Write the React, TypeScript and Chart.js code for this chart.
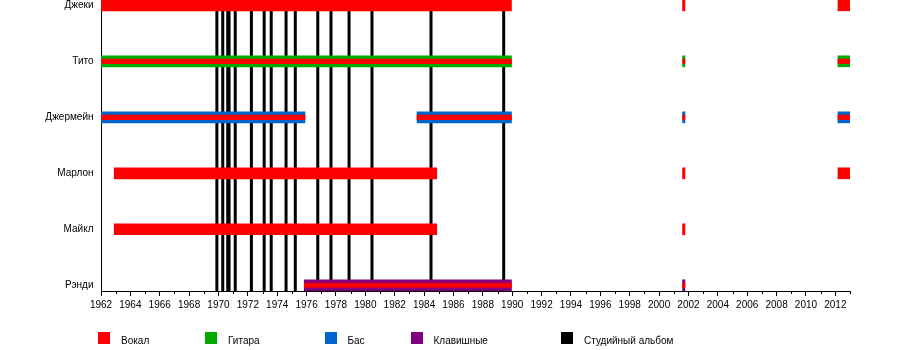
import React, { useEffect, useRef } from 'react';
import { Chart, registerables } from 'chart.js';

Chart.register(...registerables);

// ---- data ----
const members = ['Джеки', 'Тито', 'Джермейн', 'Марлон', 'Майкл', 'Рэнди'];

const jackiePeriods = [[1962, 1989.95], [2001.6, 2001.76], [2012.18, 2013]];
const titoPeriods = [[1962, 1989.95], [2001.6, 2001.76], [2012.18, 2013]];
const jermainePeriods = [[1962, 1975.89], [1983.52, 1989.95], [2001.6, 2001.76], [2012.18, 2013]];
const marlonPeriods = [[1962.9, 1984.86], [2001.6, 2001.76], [2012.18, 2013]];
const michaelPeriods = [[1962.9, 1984.86], [2001.6, 2001.76]];
const randyPeriods = [[1975.84, 1989.95], [2001.6, 2001.76]];

const albumYears = [
  1969.89, 1970.29, 1970.63, 1970.72, 1971.14, 1972.24, 1973.11, 1973.59,
  1974.6, 1975.23, 1976.76, 1977.66, 1978.89, 1980.45, 1984.47, 1989.42,
];

const legendLabels = ['Вокал', 'Гитара', 'Бас', 'Клавишные', 'Студийный альбом'];
const legendColors = ['#FF0000', '#00AA00', '#0066CC', '#800080', '#000000'];

const yearMin = 1962;
const yearMax = 2013;

// ---- layout (not data) ----
const FONT = '"Liberation Sans", Arial, sans-serif';
const LEGEND_LEFT = [98, 205, 324.5, 410.5, 561];

const toBars = (periods: number[][], row: number) =>
  periods.map(([a, b]) => ({ x: [a, b], y: row }));

const minorTicks = {
  id: 'minorTicks',
  afterDraw(chart: any) {
    const xs = chart.scales.x;
    const ctx = chart.ctx;
    const y0 = chart.chartArea.bottom;
    ctx.save();
    ctx.strokeStyle = '#000';
    ctx.lineWidth = 1;
    for (const t of xs.ticks) {
      if (Math.round(t.value) % 2 !== 0) {
        const px = Math.round(xs.getPixelForValue(t.value)) + 0.5;
        ctx.beginPath();
        ctx.moveTo(px, y0);
        ctx.lineTo(px, y0 + 3);
        ctx.stroke();
      }
    }
    ctx.restore();
  },
};

export default function App() {
  const ref = useRef<HTMLCanvasElement>(null);

  useEffect(() => {
    if (!ref.current) return;
    const [vocalColor, guitarColor, bassColor, keysColor, albumColor] = legendColors;
    const barBase = { type: 'bar', grouped: false, borderWidth: 0, indexAxis: 'y' };
    const datasets: any[] = [
      { ...barBase, label: legendLabels[1], data: toBars(titoPeriods, 1), backgroundColor: guitarColor, barThickness: 11, order: 5 },
      { ...barBase, label: legendLabels[2], data: toBars(jermainePeriods, 2), backgroundColor: bassColor, barThickness: 11, order: 5 },
      { ...barBase, label: legendLabels[3], data: toBars(randyPeriods, 5), backgroundColor: keysColor, barThickness: 11, order: 5 },
      {
        ...barBase,
        label: legendLabels[0],
        data: [...toBars(jackiePeriods, 0), ...toBars(marlonPeriods, 3), ...toBars(michaelPeriods, 4)],
        backgroundColor: vocalColor,
        barThickness: 11,
        order: 4,
      },
      {
        ...barBase,
        label: legendLabels[0] + ' ',
        data: [...toBars(titoPeriods, 1), ...toBars(jermainePeriods, 2), ...toBars(randyPeriods, 5)],
        backgroundColor: vocalColor,
        barThickness: 4.5,
        order: 1,
      },
      ...albumYears.map((yr) => ({
        type: 'line',
        label: legendLabels[4],
        indexAxis: 'y',
        data: [{ x: yr, y: -1 }, { x: yr, y: members.length + 1 }],
        borderColor: albumColor,
        borderWidth: 3,
        pointRadius: 0,
        fill: false,
        clip: 0,
        order: 10,
      })),
    ];

    const chart = new Chart(ref.current, {
      type: 'bar',
      data: { datasets },
      options: {
        indexAxis: 'y',
        animation: false,
        responsive: false,
        devicePixelRatio: 1,
        layout: { padding: { left: 0, right: 50, top: 0, bottom: 0 } },
        plugins: { legend: { display: false }, tooltip: { enabled: false } },
        events: [],
        scales: {
          x: {
            type: 'linear',
            position: 'bottom',
            offset: false,
            min: yearMin,
            max: yearMax,
            afterFit: (s: any) => {
              s.height = 59;
              s.paddingLeft = 0;
              s.paddingRight = 0;
            },
            ticks: {
              stepSize: 1,
              autoSkip: false,
              maxRotation: 0,
              minRotation: 0,
              padding: 3,
              color: '#000',
              font: { family: FONT, size: 10 },
              callback: (v: any) => (Math.round(v) % 2 === 0 ? String(v) : ''),
            },
            grid: {
              display: true,
              offset: false,
              drawOnChartArea: false,
              drawTicks: true,
              tickLength: 5,
              tickColor: (c: any) =>
                c.tick && Math.round(c.tick.value) % 2 === 0 ? '#000' : 'rgba(0,0,0,0)',
            },
            border: { display: true, color: '#000', width: 1 },
          },
          y: {
            type: 'linear',
            position: 'left',
            reverse: true,
            offset: false,
            min: -0.095,
            max: 5.102,
            afterBuildTicks: (s: any) => {
              s.ticks = members.map((_, i) => ({ value: i }));
            },
            afterFit: (s: any) => {
              s.width = 101;
              s.paddingTop = 0;
              s.paddingBottom = 0;
            },
            ticks: {
              autoSkip: false,
              padding: 7.5,
              color: '#000',
              font: { family: FONT, size: 10 },
              callback: (v: any) => members[Math.round(v)] ?? '',
            },
            grid: { display: false, offset: false, drawTicks: false },
            border: { display: true, color: '#000', width: 1 },
          },
        },
      } as any,
      plugins: [minorTicks],
    } as any);
    return () => chart.destroy();
  }, []);

  return (
    <div style={{ position: 'absolute', left: 0, top: 0, width: 900, height: 350, background: '#fff' }}>
      <canvas ref={ref} width={900} height={350} style={{ display: 'block', width: 900, height: 350 }} />
      {legendLabels.map((lab, i) => (
        <React.Fragment key={lab}>
          <div
            style={{
              position: 'absolute',
              left: LEGEND_LEFT[i],
              top: 332,
              width: 12,
              height: 12,
              background: legendColors[i],
            }}
          />
          <div
            style={{
              position: 'absolute',
              left: LEGEND_LEFT[i] + 23,
              top: 334.5,
              lineHeight: '12px',
              fontSize: 10,
              fontFamily: FONT,
              color: '#000',
              whiteSpace: 'nowrap',
            }}
          >
            {lab}
          </div>
        </React.Fragment>
      ))}
    </div>
  );
}
